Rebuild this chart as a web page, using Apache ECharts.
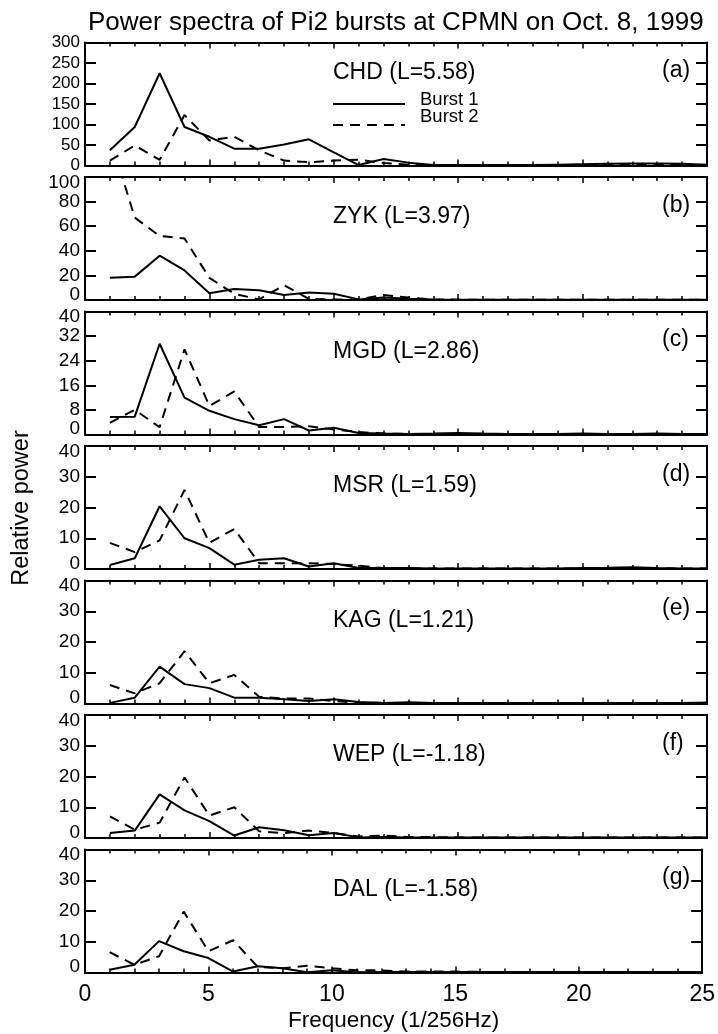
<!DOCTYPE html>
<html>
<head>
<meta charset="utf-8">
<script src="https://cdn.jsdelivr.net/npm/echarts@6/dist/echarts.min.js"></script>
<style>
  html, body { margin: 0; padding: 0; background: #fff; }
  #chart { width: 718px; height: 1034px; }
</style>
</head>
<body>
<div id="chart"></div>
<script>
// frequency index (1/256 Hz)
const freq = [1, 2, 3, 4, 5, 6, 7, 8, 9, 10, 11, 12, 13, 14, 15, 16, 17, 18, 19, 20, 21, 22, 23, 24, 25];

// relative power, burst 1 / burst 2, per station
const chd1 = [37, 94, 225, 94, 70, 41, 41, 51, 64, 32, 1, 16, 7, 1, 1, 1, 1, 1, 2, 3, 4, 5, 5, 4, 2];
const chd2 = [12, 49, 14, 123, 61, 70, 37, 12, 8, 12, 14, 6, 2, 1, 1, 1, 1, 1, 1, 2, 3, 3, 3, 2, 1];
const zyk1 = [18, 19, 36, 24, 5.5, 9, 8, 4, 6, 5, 0.5, 2, 1, 0.5, 0.3, 0.3, 0.3, 0.2, 0.2, 0.2, 0.3, 0.2, 0.2, 0.2, 0.2];
const zyk2 = [133, 67, 52, 50, 18, 5, 0.5, 12, 1, 0.5, 0.5, 4, 2, 0.5, 0.3, 0.3, 0.2, 0.2, 0.2, 0.2, 0.2, 0.2, 0.2, 0.2, 0.2];
const mgd1 = [5.7, 5.8, 29.5, 12, 7.7, 5, 3, 5, 1.3, 2.2, 0.5, 0.3, 0.2, 0.3, 0.5, 0.3, 0.2, 0.2, 0.2, 0.3, 0.2, 0.2, 0.3, 0.2, 0.2];
const mgd2 = [3.8, 8, 2.4, 27.7, 9.3, 14, 2.4, 2.4, 2.7, 1.6, 0.8, 0.3, 0.2, 0.2, 0.2, 0.2, 0.2, 0.2, 0.2, 0.2, 0.2, 0.2, 0.2, 0.2, 0.2];
const msr1 = [1.3, 3.5, 20.4, 10, 6.8, 1.4, 3, 3.5, 0.8, 1.9, 0.3, 0.3, 0.3, 0.2, 0.2, 0.2, 0.2, 0.2, 0.2, 0.3, 0.4, 0.6, 0.3, 0.2, 0.2];
const msr2 = [8.5, 5.5, 9.3, 25.7, 8.5, 13, 1.9, 1.9, 1.9, 1.6, 1.1, 0.3, 0.2, 0.2, 0.2, 0.2, 0.2, 0.2, 0.2, 0.2, 0.2, 0.2, 0.2, 0.2, 0.2];
const kag1 = [0.2, 1.9, 12, 6.3, 5, 1.9, 1.9, 1.4, 0.8, 1.4, 0.5, 0.2, 0.4, 0.2, 0.2, 0.2, 0.2, 0.2, 0.2, 0.2, 0.2, 0.2, 0.2, 0.2, 0.3];
const kag2 = [6, 3.3, 6.6, 17, 6.6, 9.3, 2.2, 1.6, 1.6, 0.8, 0.3, 0.2, 0.2, 0.2, 0.2, 0.2, 0.2, 0.2, 0.2, 0.2, 0.2, 0.2, 0.2, 0.2, 0.2];
const wep1 = [1.6, 2.4, 14.2, 9, 5.5, 0.8, 3.5, 2.5, 0.9, 1.6, 0.2, 0.3, 0.2, 0.2, 0.2, 0.2, 0.2, 0.2, 0.2, 0.2, 0.2, 0.2, 0.2, 0.2, 0.2];
const wep2 = [7, 2.7, 5, 19.7, 7.3, 10, 2.2, 1.6, 2.4, 1.6, 0.5, 0.8, 0.3, 0.3, 0.2, 0.2, 0.2, 0.2, 0.2, 0.2, 0.2, 0.2, 0.2, 0.2, 0.2];
const dal1 = [0.9, 2.5, 10.2, 6.9, 4.7, 0.3, 2, 1.4, 0.1, 0.7, 0.1, 0.2, 0.2, 0.2, 0.2, 0.2, 0.2, 0.2, 0.2, 0.2, 0.2, 0.2, 0.2, 0.2, 0.2];
const dal2 = [6.6, 2.5, 5.3, 19.8, 6.9, 10.5, 1.8, 1.4, 2.2, 1.4, 0.7, 0.7, 0.3, 0.3, 0.3, 0.2, 0.2, 0.2, 0.2, 0.2, 0.2, 0.2, 0.2, 0.2, 0.2];

// panel labels and y scales
const stations = ['CHD (L=5.58)', 'ZYK (L=3.97)', 'MGD (L=2.86)', 'MSR (L=1.59)', 'KAG (L=1.21)', 'WEP (L=-1.18)', 'DAL (L=-1.58)'];
const letters = ['(a)', '(b)', '(c)', '(d)', '(e)', '(f)', '(g)'];
const yMax = [300, 100, 40, 40, 40, 40, 40];
const yStep = [50, 20, 8, 10, 10, 10, 10];
const burst1 = [chd1, zyk1, mgd1, msr1, kag1, wep1, dal1];
const burst2 = [chd2, zyk2, mgd2, msr2, kag2, wep2, dal2];

const LEFT = 85, PLOT_W = 622, TOP0 = 42.5, PITCH = 134.5, PANEL_H = 123;
const SANS = "'Liberation Sans', Arial, sans-serif";
const AXIS_LINE = { show: true, onZero: false, lineStyle: { color: '#000', width: 2 } };

const grid = [], xAxis = [], yAxis = [], series = [], graphic = [];

stations.forEach((name, i) => {
	const top = TOP0 + i * PITCH;
	const last = i === stations.length - 1;
	grid.push({ left: LEFT, width: PLOT_W, top: top, height: PANEL_H });

	// bottom and top frequency axes (top one only carries ticks)
	['bottom', 'top'].forEach(pos => {
		xAxis.push({
			gridIndex: i, type: 'value', position: pos, min: 0, max: 25, interval: 5,
			axisLine: AXIS_LINE,
			axisTick: { show: true, inside: true, length: 6, lineStyle: { color: '#000', width: 1.5 } },
			minorTick: { show: true, splitNumber: 5, length: 4, lineStyle: { color: '#000', width: 1.5 } },
			splitLine: { show: false },
			axisLabel: {
				show: last && pos === 'bottom', color: '#000', fontSize: 23, fontFamily: SANS, margin: 11,
				showMinLabel: true, showMaxLabel: true
			},
			name: last && pos === 'bottom' ? 'Frequency (1/256Hz)' : '',
			nameLocation: 'middle', nameGap: 37,
			nameTextStyle: { color: '#000', fontSize: 22.5, fontFamily: SANS }
		});
	});

	['left', 'right'].forEach(pos => {
		// panel (a) has tightly packed labels: smaller text, centred on the ticks
		const label = i === 0
			? { fontSize: 17 }
			: { fontSize: 19, lineHeight: 11, verticalAlignMinLabel: 'bottom', verticalAlignMaxLabel: 'top' };
		yAxis.push({
			gridIndex: i, type: 'value', position: pos, min: 0, max: yMax[i], interval: yStep[i],
			axisLine: AXIS_LINE,
			axisTick: { show: true, inside: true, length: 11, lineStyle: { color: '#000', width: 2 } },
			splitLine: { show: false },
			axisLabel: Object.assign({
				show: pos === 'left', color: '#000', fontFamily: SANS, margin: 5,
				showMinLabel: true, showMaxLabel: true, hideOverlap: false
			}, label)
		});
	});

	series.push({
		name: 'Burst 1', type: 'line', xAxisIndex: 2 * i, yAxisIndex: 2 * i,
		data: freq.map((f, k) => [f, burst1[i][k]]),
		symbol: 'none', lineStyle: { color: '#000', width: 2 }, clip: true, animation: false
	});
	series.push({
		name: 'Burst 2', type: 'line', xAxisIndex: 2 * i, yAxisIndex: 2 * i,
		data: freq.map((f, k) => [f, burst2[i][k]]),
		symbol: 'none', lineStyle: { color: '#000', width: 2, type: [10, 7] }, clip: true, animation: false
	});

	// station name and panel letter
	graphic.push({
		type: 'text', left: 333, top: top + (i === 0 ? 30.5 : 40.5) - 12, z: 10,
		style: { text: name, fill: '#000', font: '23px ' + SANS }
	});
	graphic.push({
		type: 'text', left: 662, top: top + 29 - 12, z: 10,
		style: { text: letters[i], fill: '#000', font: '23px ' + SANS }
	});
});

// legend of panel (a) and the shared y title
graphic.push(
	{ type: 'line', shape: { x1: 333, y1: 104, x2: 405, y2: 104 }, style: { stroke: '#000', lineWidth: 2 } },
	{ type: 'text', left: 420, top: 90, style: { text: 'Burst 1', fill: '#000', font: '18.5px ' + SANS } },
	{ type: 'line', shape: { x1: 333, y1: 125, x2: 405, y2: 125 }, style: { stroke: '#000', lineWidth: 2, lineDash: [10, 7] } },
	{ type: 'text', left: 420, top: 107, style: { text: 'Burst 2', fill: '#000', font: '18.5px ' + SANS } },
	{ type: 'text', rotation: Math.PI / 2, x: 22, y: 508,
		style: { text: 'Relative power', fill: '#000', font: '23.5px ' + SANS, align: 'center', verticalAlign: 'middle' } }
);

const chart = echarts.init(document.getElementById('chart'), null, { renderer: 'canvas' });
chart.setOption({
	animation: false,
	backgroundColor: '#fff',
	title: {
		text: 'Power spectra of Pi2 bursts at CPMN on Oct. 8, 1999',
		left: 83, top: 5,
		textStyle: { color: '#000', fontSize: 26, fontWeight: 'normal', fontFamily: SANS }
	},
	grid: grid,
	xAxis: xAxis,
	yAxis: yAxis,
	series: series,
	graphic: graphic
});
</script>
</body>
</html>
